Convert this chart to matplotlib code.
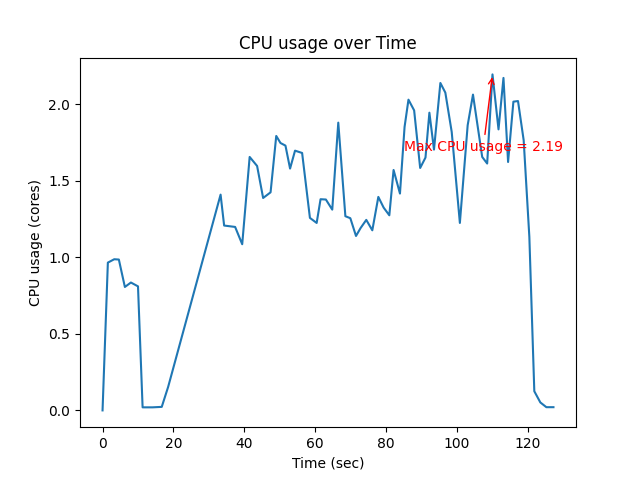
import matplotlib
matplotlib.use('Agg')
import matplotlib.pyplot as plt

# time stamps (sec) and cpu usage (cores)
time_sec = [0, 1.5, 3.3, 4.6, 6.3, 8.0, 10.0, 11.3, 14.1, 16.7, 18.5,
            33.3, 34.3, 37.4, 39.4, 41.5, 43.6, 45.3, 47.4, 49.0, 50.2,
            51.6, 52.9, 54.3, 56.3, 58.5, 60.4, 61.5, 63.0, 64.8, 66.5,
            68.5, 69.9, 71.5, 72.8, 74.4, 76.1, 77.8, 79.3, 80.9, 82.1,
            83.9, 85.2, 86.3, 87.9, 89.6, 91.1, 92.2, 93.5, 95.3, 96.7,
            98.5, 100.8, 103.0, 104.5, 107.1, 108.5, 110.0, 111.7, 113.1,
            114.4, 115.9, 117.2, 118.8, 120.4, 121.8, 123.5, 125.2, 127.2]
cpu_usage = [0.0, 0.965, 0.987, 0.985, 0.806, 0.835, 0.81, 0.02, 0.02, 0.023, 0.153,
             1.409, 1.207, 1.198, 1.085, 1.655, 1.596, 1.387, 1.424, 1.792, 1.746,
             1.729, 1.579, 1.696, 1.681, 1.257, 1.224, 1.379, 1.377, 1.311, 1.879,
             1.268, 1.255, 1.139, 1.191, 1.244, 1.176, 1.394, 1.324, 1.274, 1.570,
             1.416, 1.851, 2.029, 1.959, 1.583, 1.651, 1.944, 1.703, 2.138, 2.075,
             1.818, 1.224, 1.862, 2.062, 1.655, 1.612, 2.194, 1.835, 2.171,
             1.622, 2.016, 2.020, 1.764, 1.133, 0.125, 0.052, 0.021, 0.021]

plt.figure(figsize=(6.4, 4.8), dpi=100)
plt.plot(time_sec, cpu_usage)

# mark the peak
max_cpu = max(cpu_usage)
max_t = time_sec[cpu_usage.index(max_cpu)]
plt.annotate(f'Max CPU usage = {max_cpu:.2f}', xy=(max_t, max_cpu),
             xytext=(max_t - 25, max_cpu - 0.5), color='red',
             arrowprops=dict(arrowstyle='->', color='red'))

plt.xlabel("Time (sec)")
plt.ylabel("CPU usage (cores)")
plt.title("CPU usage over Time")
plt.savefig('out.png')
